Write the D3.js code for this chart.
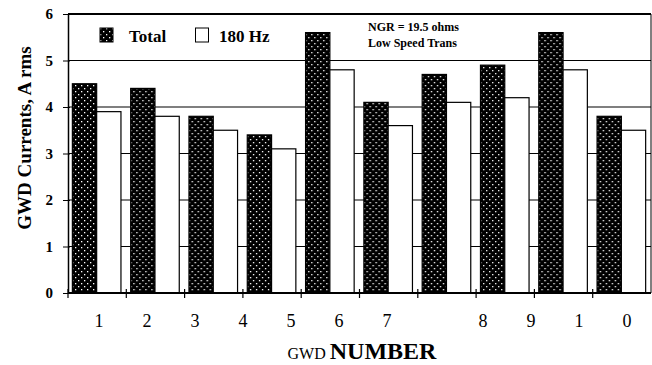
<!DOCTYPE html>
<html>
<head>
<meta charset="utf-8">
<script src="https://cdn.jsdelivr.net/npm/d3@7"></script>
<style>
  body { margin: 0; background: #fff; }
  svg { display: block; font-family: "Liberation Serif", "Times New Roman", serif; }
</style>
</head>
<body>
<svg id="chart" width="652" height="365"></svg>
<script>
const gwd = ["1", "2", "3", "4", "5", "6", "7", "8", "9", "10"];
const keys = ["total", "hz180"];
const total = [4.5, 4.4, 3.8, 3.4, 5.6, 4.1, 4.7, 4.9, 5.6, 3.8];
const hz180 = [3.9, 3.8, 3.5, 3.1, 4.8, 3.6, 4.1, 4.2, 4.8, 3.5];
const yTicks = [0, 1, 2, 3, 4, 5, 6];
// x labels as printed (one empty slot)
const xLabels = ["1", "2", "3", "4", "5", "6", "7", "", "8", "9", "1", "0"];

const margin = { top: 14, right: 1, bottom: 72, left: 68 };
const W = 652, H = 365;
const svg = d3.select("#chart");

const x0 = d3.scaleBand().domain(gwd).range([margin.left, W - margin.right]);
const x1 = d3.scaleBand().domain(keys).range([0, x0.bandwidth()]).paddingOuter(0.2).align(0.45);
const y = d3.scaleLinear().domain([0, 6]).range([H - margin.bottom, margin.top]);

/*stipple pattern for the dark bars*/
const pat = svg.append("defs").append("pattern")
  .attr("id", "dots").attr("patternUnits", "userSpaceOnUse")
  .attr("width", 6).attr("height", 6);
pat.append("rect").attr("width", 6).attr("height", 6).attr("fill", "#000");
pat.append("rect").attr("x", 1).attr("y", 1).attr("width", 1.3).attr("height", 1.3).attr("fill", "#fff");
pat.append("rect").attr("x", 4).attr("y", 4).attr("width", 1.3).attr("height", 1.3).attr("fill", "#fff");

/*horizontal grid lines*/
svg.append("g")
  .selectAll("line").data(yTicks.filter(d => d > 0 && d < 6)).join("line")
  .attr("x1", margin.left).attr("x2", W - margin.right)
  .attr("y1", d => y(d)).attr("y2", d => y(d))
  .attr("stroke", "#000").attr("stroke-width", 1.2);

/*bars*/
const rows = gwd.map((g, i) => ({ g, total: total[i], hz180: hz180[i] }));
svg.append("g")
  .selectAll("g").data(rows).join("g")
  .attr("transform", d => `translate(${x0(d.g)},0)`)
  .selectAll("rect").data(d => keys.map(k => ({ k, v: d[k] }))).join("rect")
  .attr("x", d => x1(d.k))
  .attr("width", x1.bandwidth())
  .attr("y", d => y(d.v))
  .attr("height", d => y(0) - y(d.v))
  .attr("fill", d => d.k === "total" ? "url(#dots)" : "#fff")
  .attr("stroke", "#000").attr("stroke-width", 1.2);

/*top and right frame*/
svg.append("line")
  .attr("x1", margin.left).attr("x2", W - margin.right)
  .attr("y1", y(6)).attr("y2", y(6))
  .attr("stroke", "#000").attr("stroke-width", 2);
svg.append("line")
  .attr("x1", W - margin.right).attr("x2", W - margin.right)
  .attr("y1", y(6)).attr("y2", y(0))
  .attr("stroke", "#000").attr("stroke-width", 1);

/*y axis*/
const yAxis = svg.append("g")
  .attr("transform", `translate(${margin.left},0)`)
  .call(d3.axisLeft(y).tickValues(yTicks).tickFormat(d3.format("d"))
    .tickSize(5).tickSizeOuter(0).tickPadding(10));
yAxis.select(".domain").attr("stroke-width", 1.5);
yAxis.selectAll(".tick line").attr("x2", 2).attr("x1", -5);
yAxis.selectAll("text")
  .attr("font-family", "Liberation Serif").attr("font-weight", "bold")
  .attr("font-size", 15).attr("fill", "#000");

/*x axis: ticks on group boundaries*/
const bounds = gwd.map(g => x0(g));
const xAxis = svg.append("g").attr("transform", `translate(0,${y(0)})`);
xAxis.append("line")
  .attr("x1", margin.left).attr("x2", W - margin.right)
  .attr("stroke", "#000").attr("stroke-width", 2);
xAxis.selectAll("line.tk").data(bounds).join("line").attr("class", "tk")
  .attr("x1", d => d).attr("x2", d => d)
  .attr("y1", -4).attr("y2", 5)
  .attr("stroke", "#000").attr("stroke-width", 1.2);

const xl = d3.scalePoint().domain(d3.range(xLabels.length))
  .range([margin.left + 31, W - margin.right - 24]);
svg.append("g").selectAll("text").data(xLabels).join("text")
  .attr("x", (d, i) => xl(i)).attr("y", 327)
  .attr("text-anchor", "middle")
  .attr("font-size", 18)
  .text(d => d);

/*axis titles*/
const xt = svg.append("text").attr("x", 362).attr("y", 359).attr("text-anchor", "middle");
xt.append("tspan").attr("font-size", 16).text("GWD ");
xt.append("tspan").attr("font-size", 24).attr("font-weight", "bold").text("NUMBER");

svg.append("text")
  .attr("transform", `translate(31,138) rotate(-90)`)
  .attr("text-anchor", "middle")
  .attr("font-size", 19).attr("font-weight", "bold")
  .text("GWD Currents, A rms");

/*legend*/
const legend = svg.append("g").attr("font-size", 17).attr("font-weight", "bold");
legend.append("rect").attr("x", 100).attr("y", 28).attr("width", 13).attr("height", 14)
  .attr("fill", "url(#dots)").attr("stroke", "#000");
legend.append("text").attr("x", 129).attr("y", 42).text("Total");
legend.append("rect").attr("x", 195.5).attr("y", 28).attr("width", 13).attr("height", 14)
  .attr("fill", "#fff").attr("stroke", "#000");
legend.append("text").attr("x", 219).attr("y", 42).text("180 Hz");

/*annotation*/
const note = svg.append("g").attr("font-size", 12).attr("font-weight", "bold");
note.append("text").attr("x", 368).attr("y", 31).text("NGR = 19.5 ohms");
note.append("text").attr("x", 368).attr("y", 47).text("Low Speed Trans");
</script>
</body>
</html>
